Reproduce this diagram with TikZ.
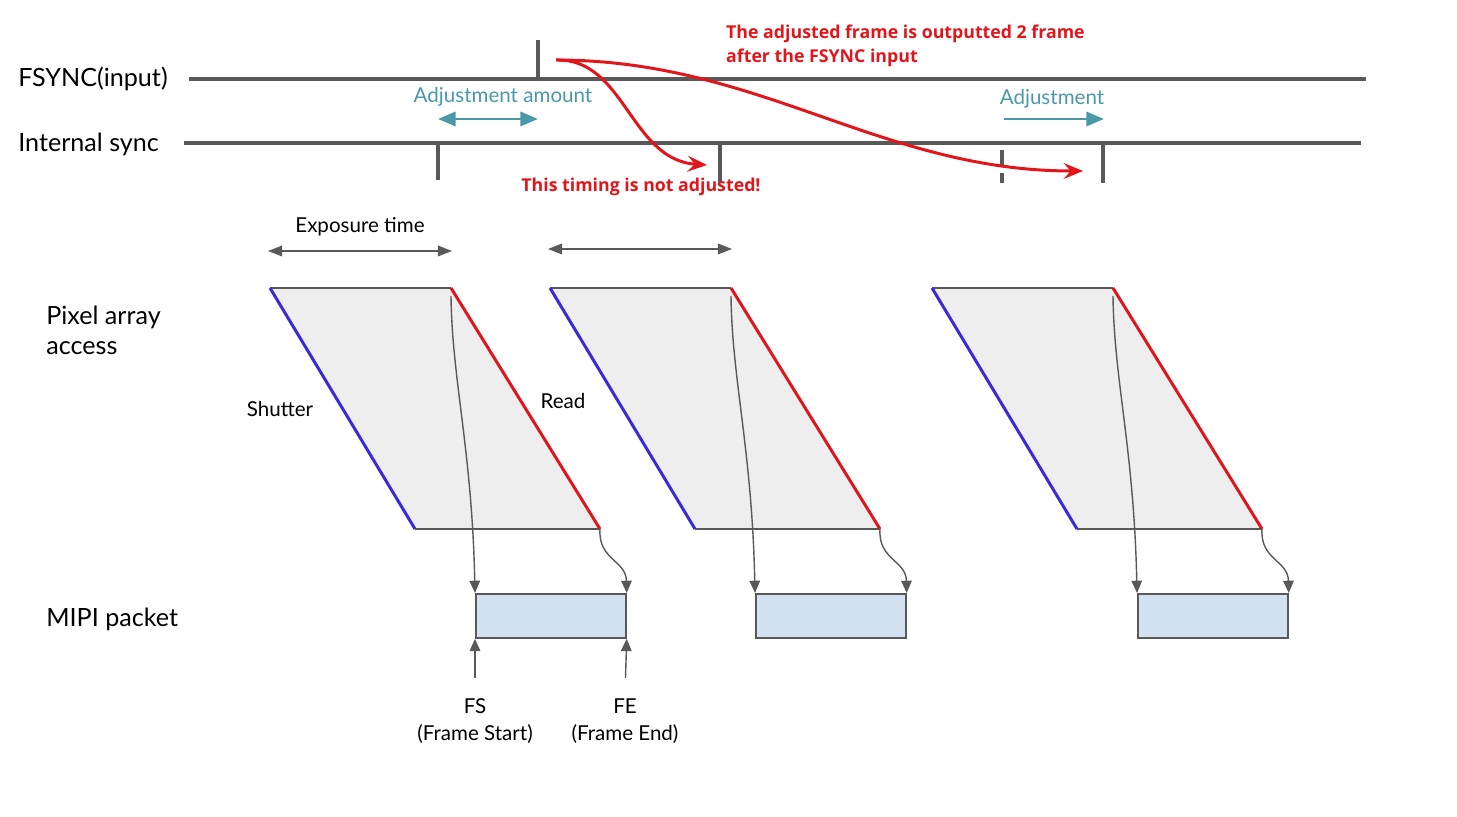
\documentclass[tikz,border=0pt]{standalone}
\usepackage{fontspec}
\setmainfont{Lato}
\newfontfamily\notefont{Open Sans}
\usepackage{tikz}
\usetikzlibrary{arrows.meta, positioning}
\definecolor{linegray}{HTML}{595959}
\definecolor{framegray}{HTML}{EEEEEE}
\definecolor{packetblue}{HTML}{D3E2F1}
\definecolor{adjteal}{HTML}{4A98A8}
\definecolor{notered}{HTML}{E2151B}
\definecolor{shutblue}{HTML}{3A2AD8}
\definecolor{readred}{HTML}{E0161E}
\tikzstyle{timeline} = [line width=1.8pt, draw=linegray]
\tikzstyle{ticker} = [line width=1.8pt, draw=linegray]
\tikzstyle{label} = [font=\fontsize{14.3}{17}\selectfont, anchor=west, align=left, inner sep=0pt]
\tikzstyle{small} = [font=\fontsize{11.7}{15}\selectfont, text=black]
\tikzstyle{note} = [font=\notefont\bfseries\fontsize{10.1}{13.5}\selectfont, text=notered, align=left]
\tikzstyle{adjust} = [line width=1.7pt, draw=adjteal, >={Triangle[length=10pt, width=8pt]}]
\tikzstyle{span} = [line width=0.9pt, draw=linegray, <->, >={Triangle[length=8pt, width=6pt]}]
\tikzstyle{flow} = [line width=0.8pt, draw=linegray, ->, >={Triangle[length=7pt, width=6pt]}]
\tikzstyle{redarrow} = [line width=1.7pt, draw=notered, ->, >={Stealth[length=11pt, width=9pt, inset=4pt]}]
\tikzstyle{packet} = [rectangle, draw=linegray, line width=1pt, fill=packetblue, minimum width=3cm, minimum height=0.88cm, inner sep=0pt]

\begin{document}
\begin{tikzpicture}[x=0.02cm, y=-0.02cm]
  \useasboundingbox (0,0) rectangle (1457,817);

  % signal names
  \node[label] (fsync) at (18,79) {FSYNC(input)};
  \node[label] (isync) at (18,144) {Internal sync};
  \node[label] (pixel) at (46,330) {Pixel array\\access};
  \node[label] (mipi) at (46,619) {MIPI packet};

  % time lines
  \coordinate (fsA) at (189,79);
  \coordinate (fsB) at (1366,79);
  \coordinate (isA) at (184,143);
  \coordinate (isB) at (1361,143);
  \draw[timeline] (fsA) -- (fsB);
  \draw[timeline] (isA) -- (isB);

  % pulses
  \draw[ticker] (538,40) -- (538,79);
  \draw[ticker] (438,143) -- (438,180);
  \draw[ticker] (720,143) -- (720,183);
  \draw[ticker, dash pattern=on 9pt off 4pt] (1002,150) -- (1002,183);
  \draw[ticker] (1103,143) -- (1103,183);

  % adjustment
  \node[small, text=adjteal] (adjamt) at (503,97) {Adjustment amount};
  \coordinate (aa1) at (438,119);
  \coordinate (aa2) at (538,119);
  \draw[adjust, <->] (aa1) -- (aa2);
  \node[small, text=adjteal] (adj) at (1052,99) {Adjustment};
  \coordinate (ab1) at (1004,119);
  \coordinate (ab2) at (1104,119);
  \draw[adjust, ->] (ab1) -- (ab2);

  % red notes
  \node[note, anchor=north west] (note1) at (720,19) {The adjusted frame is outputted 2 frame\\after the FSYNC input};
  \node[note] (note2) at (641,187) {This timing is not adjusted!};
  \coordinate (src) at (556,60);
  \coordinate (dst1) at (707,165);
  \coordinate (dst2) at (1083,171);
  \draw[redarrow] (src) .. controls (625,58) and (630,160) .. (dst1);
  \draw[redarrow] (src) .. controls (760,60) and (880,171) .. (dst2);

  % exposure
  \node[small] (expo) at (360,227) {Exposure time};
  \coordinate (ex1) at (268,251);
  \coordinate (ex2) at (452,251);
  \coordinate (ex3) at (548,249);
  \coordinate (ex4) at (732,249);
  \draw[span] (ex1) -- (ex2);
  \draw[span] (ex3) -- (ex4);

  % frames
  \foreach \i/\dx in {1/0, 2/280, 3/662} {
    \coordinate (tl\i) at (270+\dx,288);
    \coordinate (tr\i) at (451+\dx,288);
    \coordinate (br\i) at (600+\dx,529);
    \coordinate (bl\i) at (415+\dx,529);
    \coordinate (rd\i) at (451+\dx,296);
    \fill[framegray] (tl\i) -- (tr\i) -- (br\i) -- (bl\i) -- cycle;
    \draw[linegray, line width=1.2pt] (tl\i) -- (tr\i);
    \draw[linegray, line width=1.2pt] (bl\i) -- (br\i);
    \draw[shutblue, line width=1.7pt] (tl\i) -- (bl\i);
    \draw[readred, line width=1.7pt] (tr\i) -- (br\i);
    \node[packet, anchor=north west] (pk\i) at (475+\dx,593) {};
    \draw[flow] (rd\i) .. controls (452+\dx,380) and (472+\dx,450) .. (pk\i.north west);
    \draw[flow] (br\i) .. controls (598+\dx,560) and (626+\dx,560) .. (pk\i.north east);
  }

  \node[small] (shut) at (280,409) {Shutter};
  \node[small] (read) at (563,401) {Read};

  % frame start / end
  \node[small, align=center] (fs) at (475,721) {FS\\(Frame Start)};
  \node[small, align=center] (fe) at (625,721) {FE\\(Frame End)};
  \draw[flow, shorten <=0.3cm] (fs.north) -- (pk1.south west);
  \draw[flow, shorten <=0.3cm] (fe.north) -- (pk1.south east);
\end{tikzpicture}
\end{document}
